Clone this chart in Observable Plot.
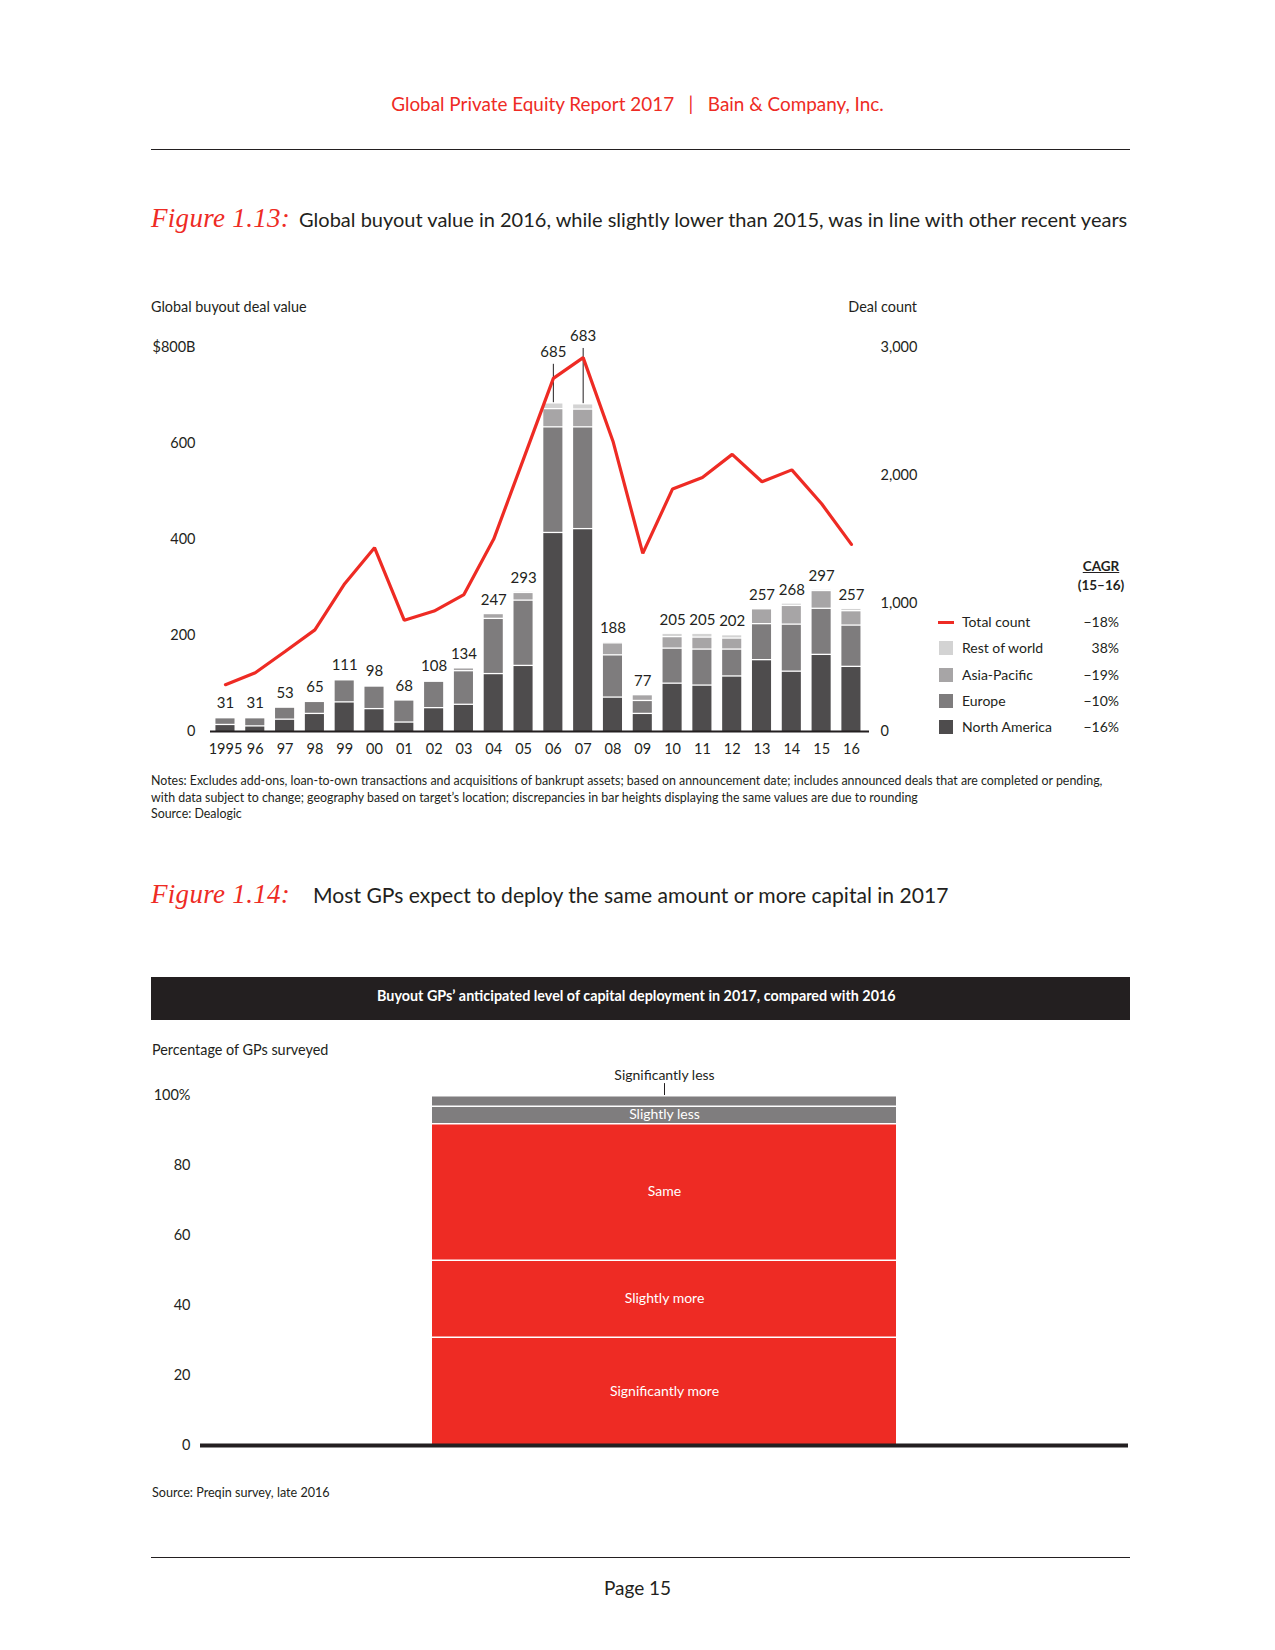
<!DOCTYPE html>
<html>
<head>
<meta charset="utf-8">
<script src="https://cdn.jsdelivr.net/npm/d3@7"></script>
<script src="https://cdn.jsdelivr.net/npm/@observablehq/plot@0.6"></script>
<style>
  html, body { margin: 0; padding: 0; background: #fff; }
  #page { position: relative; width: 1275px; height: 1650px; font-family: Lato, "Noto Sans", sans-serif; color: #231f20; overflow: hidden; }
  .abs { position: absolute; white-space: nowrap; }
  .fig { font-family: "Liberation Serif", "DejaVu Serif", serif; font-style: italic; color: #ee2b24; font-size: 27px; margin-right: 9px; letter-spacing: 0.3px; }
  .rule { position: absolute; left: 151px; width: 979px; height: 1px; background: #231f20; }
  .swatch { position: absolute; width: 14px; height: 14px; }
</style>
</head>
<body>
<div id="page">
  <div class="abs" style="left:0;width:1275px;top:92px;text-align:center;font-size:18.9px;line-height:24px;color:#ee2b24;">Global Private Equity Report 2017&nbsp;&nbsp;&nbsp;|&nbsp;&nbsp;&nbsp;Bain &amp; Company, Inc.</div>
  <div class="rule" style="top:149px;"></div>

  <div class="abs" style="left:151px;top:200px;line-height:36px;font-size:20px;"><span class="fig">Figure 1.13:</span>Global buyout value in 2016, while slightly lower than 2015, was in line with other recent years</div>

  <div class="abs" style="left:151px;top:297px;font-size:14.4px;line-height:20px;">Global buyout deal value</div>
  <div class="abs" style="left:817px;width:100px;text-align:right;top:297px;font-size:14.4px;line-height:20px;">Deal count</div>

  <div id="chart1" class="abs" style="left:140px;top:290px;"></div>
  <div id="legend"></div>

  <div class="abs" style="left:151px;top:773px;font-size:12.4px;line-height:16.6px;">Notes: Excludes add-ons, loan-to-own transactions and acquisitions of bankrupt assets; based on announcement date; includes announced deals that are completed or pending,<br>with data subject to change; geography based on target’s location; discrepancies in bar heights displaying the same values are due to rounding<br>Source: Dealogic</div>

  <div class="abs" style="left:151px;top:876px;line-height:36px;font-size:21.1px;"><span class="fig" style="margin-right:23px;">Figure 1.14:</span>Most GPs expect to deploy the same amount or more capital in 2017</div>

  <div class="abs" style="left:151px;top:977px;width:971px;padding-right:8px;height:43px;background:#231f20;text-align:center;line-height:36px;">
    <span style="display:inline-block;color:#fff;font-weight:bold;font-size:15.5px;transform:scaleX(0.925);transform-origin:center;">Buyout GPs’ anticipated level of capital deployment in 2017, compared with 2016</span>
  </div>

  <div class="abs" style="left:152px;top:1040px;font-size:14.4px;line-height:20px;">Percentage of GPs surveyed</div>

  <div id="chart2" class="abs" style="left:140px;top:1060px;"></div>

  <div class="abs" style="left:152px;top:1485px;font-size:12.6px;line-height:16px;">Source: Preqin survey, late 2016</div>
  <div class="rule" style="top:1557px;"></div>
  <div class="abs" style="left:0;width:1275px;top:1577px;text-align:center;font-size:19px;line-height:22px;">Page 15</div>
</div>

<script>
// ---------- Figure 1.13 data ----------
const years = [1995,1996,1997,1998,1999,2000,2001,2002,2003,2004,2005,2006,2007,2008,2009,2010,2011,2012,2013,2014,2015,2016];
const northAmerica = [15,12,26,38,62,48,20,50,57,121,138,415,423,72,38,101,97,116,150,126,161,136];
const europe       = [14,17,25,25,46,47,46,55,70,115,136,220,212,88,27,73,75,56,75,98,96,86];
const asiaPacific  = [2,1,2,2,2,2,2,2,6,10,16,38,37,25,12,24,25,23,31,39,37,30];
const restOfWorld  = [0,1,0,0,1,1,0,1,1,1,3,12,11,3,0,7,8,7,1,5,3,5];
const totalValue   = [31,31,53,65,111,98,68,108,134,247,293,685,683,188,77,205,205,202,257,268,297,257];
const dealCount    = [366,459,625,794,1155,1436,869,941,1070,1503,2130,2759,2921,2268,1392,1895,1985,2165,1951,2044,1779,1462];
const valueTicks = [0,200,400,600,800];
const countTicks = [0,1000,2000,3000];
const regions = ["North America","Europe","Asia-Pacific","Rest of world"];
const legendLabels = ["Total count","Rest of world","Asia-Pacific","Europe","North America"];
const cagrLabels = ["\u221218%","38%","\u221219%","\u221210%","\u221216%"];

// ---------- Figure 1.14 data ----------
const responses = ["Significantly more","Slightly more","Same","Slightly less","Significantly less"];
const shares = [31,22,39,5,3];
const shareTicks = [0,20,40,60,80,100];

// ---------- styles ----------
const RED = "#ee2b24";
const INK = "#231f20";
const regionColors = ["#4e4c4d","#7e7c7d","#a7a5a6","#d3d3d3"];
const k = 800 / 3000; // deal count -> shared vertical scale
const callouts = new Map([[2006, 105], [2007, 140]]); // label lift in $B units

const seriesByRegion = [northAmerica, europe, asiaPacific, restOfWorld];
const rows = years.flatMap((yr, i) => regions.map((r, j) => ({year: yr, region: r, value: seriesByRegion[j][i]})));
const totals = years.map((yr, i) => ({year: yr, total: totalValue[i], count: dealCount[i]}));
const plain = totals.filter(d => !callouts.has(d.year));
const lifted = totals.filter(d => callouts.has(d.year)).map(d => ({...d, labelY: d.total + callouts.get(d.year)}));

const chart1 = Plot.plot({
  width: 1000, height: 480,
  marginTop: 57, marginBottom: 39, marginLeft: 70, marginRight: 271,
  x: {type: "band", domain: years, padding: 0.36, range: [64.7, 731.2], round: false, axis: null},
  y: {domain: [0, 800], axis: null},
  color: {domain: regions, range: regionColors},
  style: {fontFamily: "Lato, 'Noto Sans', sans-serif", fontSize: "14.5px", color: INK, background: "transparent", overflow: "visible"},
  marks: [
    Plot.barY(rows, {x: "year", y: "value", fill: "region", insetTop: 1.3}),
    Plot.ruleY([0], {stroke: INK, strokeWidth: 2}),
    Plot.text(plain, {x: "year", y: "total", text: d => String(d.total), dy: -13, fontSize: 15, fill: INK}),
    Plot.ruleX(lifted, {x: "year", y1: "total", y2: d => d.labelY - 25, stroke: INK, strokeWidth: 1}),
    Plot.text(lifted, {x: "year", y: "labelY", text: d => String(d.total), fontSize: 15, fill: INK}),
    Plot.line(totals, {x: "year", y: d => d.count * k, stroke: RED, strokeWidth: 3.2, strokeLinejoin: "miter"}),
    Plot.axisY(valueTicks, {anchor: "left", label: null, tickSize: 0, tickPadding: 15, tickFormat: d => d === 800 ? "$800B" : String(d)}),
    Plot.axisY(countTicks.map(c => c * k), {anchor: "right", label: null, tickSize: 0, tickPadding: 11, tickFormat: d => d3.format(",")(Math.round(d / k))}),
    Plot.axisX({label: null, tickSize: 0, tickPadding: 12, tickFormat: d => d === 1995 ? "1995" : String(d).slice(2)})
  ]
});
document.getElementById("chart1").appendChild(chart1);

// legend (HTML)
const legend = document.getElementById("legend");
const legendY = [622, 648, 675, 701, 727];
const legendFill = [null, regionColors[3], regionColors[2], regionColors[1], regionColors[0]];
legend.innerHTML =
  `<div class="abs" style="left:1071px;width:60px;top:557px;text-align:center;font-weight:bold;font-size:13.5px;line-height:19px;"><span style="text-decoration:underline;">CAGR</span><br>(15\u201316)</div>` +
  legendLabels.map((lab, i) => {
    const sw = i === 0
      ? `<div class="abs" style="left:938px;top:${legendY[i]-1.5}px;width:16px;height:3px;background:${RED};"></div>`
      : `<div class="swatch" style="left:939px;top:${legendY[i]-7}px;background:${legendFill[i]};"></div>`;
    return sw +
      `<div class="abs" style="left:962px;top:${legendY[i]-10}px;font-size:14px;line-height:20px;">${lab}</div>` +
      `<div class="abs" style="left:1040px;width:79px;text-align:right;top:${legendY[i]-10}px;font-size:14px;line-height:20px;">${cagrLabels[i]}</div>`;
  }).join("");

// ---------- Figure 1.14 ----------
const respColors = [RED, RED, RED, "#7f7d7e", "#7f7d7e"];
const survey = responses.map((r, i) => ({group: "GPs", response: r, share: shares[i]}));
const totalShare = d3.sum(shares);
const topLabel = survey[survey.length - 1];

const chart2 = Plot.plot({
  width: 1000, height: 410,
  marginTop: 35, marginBottom: 25, marginLeft: 60, marginRight: 12,
  x: {type: "band", domain: ["GPs"], padding: 1/3, round: false, axis: null},
  y: {domain: [0, 100], axis: null},
  color: {domain: responses, range: respColors},
  style: {fontFamily: "Lato, 'Noto Sans', sans-serif", fontSize: "14.5px", color: INK, background: "transparent", overflow: "visible"},
  marks: [
    Plot.barY(survey, {x: "group", y: "share", fill: "response", insetTop: 1.5}),
    Plot.text(survey, Plot.stackY({x: "group", y: "share", text: d => d.response === topLabel.response ? "" : d.response, fill: "white", fontSize: 14})),
    Plot.ruleX([topLabel], {x: "group", y1: totalShare, y2: totalShare + 3.4, stroke: INK, strokeWidth: 1}),
    Plot.text([topLabel], {x: "group", y: totalShare, text: "response", dy: -20, fontSize: 14, fill: INK}),
    Plot.ruleY([0], {stroke: INK, strokeWidth: 4}),
    Plot.axisY(shareTicks, {anchor: "left", label: null, tickSize: 0, tickPadding: 10, tickFormat: d => d === 100 ? "100%" : String(d)})
  ]
});
document.getElementById("chart2").appendChild(chart2);
</script>
</body>
</html>
